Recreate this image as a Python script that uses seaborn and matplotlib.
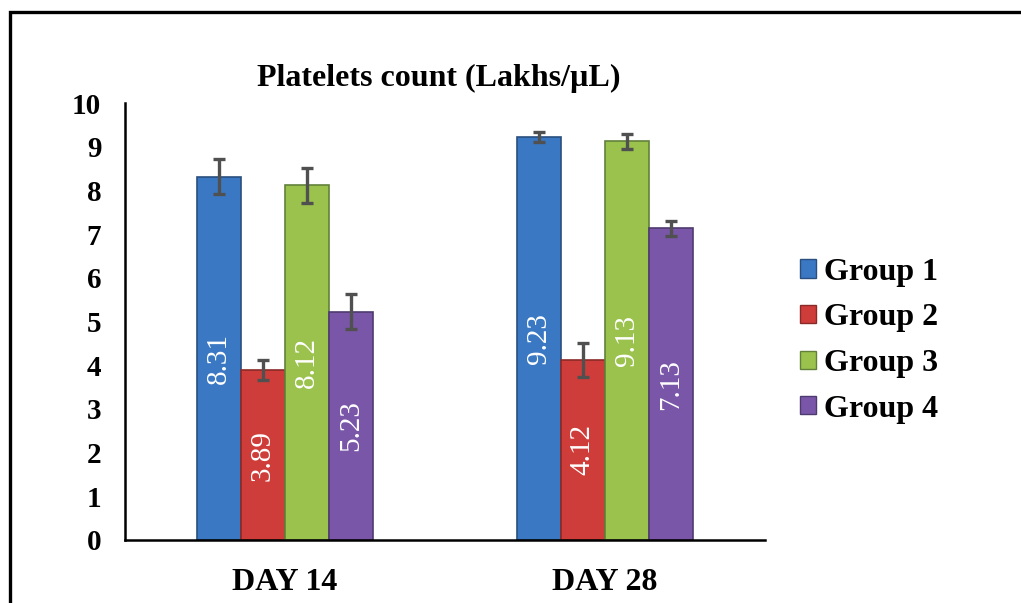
import matplotlib
matplotlib.use("Agg")
import matplotlib.pyplot as plt
import seaborn as sns
import pandas as pd
import numpy as np
from matplotlib.patches import Rectangle, Patch

days = ["DAY 14", "DAY 28"]
groups = ["Group 1", "Group 2", "Group 3", "Group 4"]
day14 = [8.31, 3.89, 8.12, 5.23]
day28 = [9.23, 4.12, 9.13, 7.13]
err14 = [0.40, 0.22, 0.40, 0.40]
err28 = [0.12, 0.40, 0.17, 0.17]
yticks = list(range(0, 11))
title = "Platelets count (Lakhs/\u00b5L)"

colors = ["#3A78C3", "#CF3D3A", "#9AC24C", "#7A56A8"]
edges = ["#2A4F7E", "#8A2A28", "#62803A", "#4F3A70"]

rows = []
for g, v in zip(groups, day14):
    rows.append({"day": days[0], "group": g, "value": v})
for g, v in zip(groups, day28):
    rows.append({"day": days[1], "group": g, "value": v})
df = pd.DataFrame(rows)

sns.set_theme(style="white")
plt.rcParams["font.family"] = ["Liberation Serif", "DejaVu Serif"]
plt.rcParams["text.color"] = "black"

fig = plt.figure(figsize=(10.21, 6.03), dpi=100)
ax = fig.add_axes([0.1224, 0.1045, 0.749 - 0.1224, 0.829 - 0.1045])

sns.barplot(data=df, x="day", y="value", hue="group", order=days, hue_order=groups,
            palette=colors, width=0.55, errorbar=None, ax=ax, legend=False,
            saturation=1, linewidth=1.2)

errs = {days[0]: err14, days[1]: err28}
vals = {days[0]: day14, days[1]: day28}
bars = [p for p in ax.patches if isinstance(p, Rectangle)][:8]
k = 0
for gi, g in enumerate(groups):
    for di, d in enumerate(days):
        p = bars[k]
        k += 1
        p.set_edgecolor(edges[gi])
        cx = p.get_x() + p.get_width() / 2
        h = p.get_height()
        ax.errorbar(cx, h, yerr=errs[d][gi], color="#505050", capsize=4.5,
                    elinewidth=2.4, capthick=2.4, zorder=5)
        ax.text(cx, h / 2, f"{vals[d][gi]:.2f}", rotation=90, ha="center", va="center",
                color="white", fontsize=21, family=["Liberation Serif", "DejaVu Serif"], zorder=6)

ax.set_xlim(-0.5, 1.5)
ax.set_ylim(0, 10)
ax.set_yticks(yticks)
ax.set_yticklabels([str(t) for t in yticks], fontsize=21, fontweight="bold")
ax.set_xticks([0, 1])
ax.set_xticklabels(days, fontsize=23, fontweight="bold")
ax.tick_params(axis="y", length=0, pad=17, colors="black")
ax.tick_params(axis="x", length=0, pad=20, colors="black")
ax.set_xlabel("")
ax.set_ylabel("")
for s in ["top", "right"]:
    ax.spines[s].set_visible(False)
for s in ["left", "bottom"]:
    ax.spines[s].set_color("black")
    ax.spines[s].set_linewidth(1.8)
ax.set_title(title, fontsize=23, fontweight="bold", pad=12, x=0.49, color="black")

handles = [Patch(facecolor=c, edgecolor=e) for c, e in zip(colors, edges)]
fig.legend(handles, groups, loc="center left", bbox_to_anchor=(0.755, 0.435), frameon=False,
           prop={"size": 23, "weight": "bold", "family": "Liberation Serif"},
           handlelength=0.5, handleheight=0.5, handletextpad=0.25, labelspacing=0.52,
           labelcolor="black")

frame = Rectangle((10 / 1021, -0.2), 1.2, 1.2 - 12 / 603, transform=fig.transFigure,
                  fill=False, edgecolor="black", linewidth=2.4, clip_on=False)
fig.patches.append(frame)

fig.savefig("out.png", dpi=100)
